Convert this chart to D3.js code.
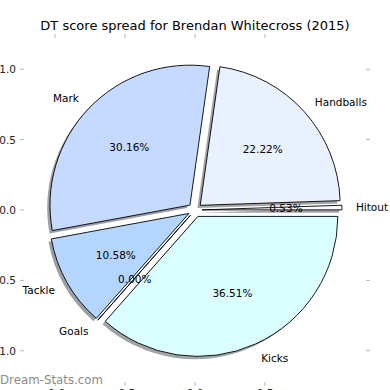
<!DOCTYPE html>
<html>
<head>
<meta charset="utf-8">
<script src="https://cdn.jsdelivr.net/npm/d3@7"></script>
<style>
  html, body { margin: 0; padding: 0; background: #fff; }
  svg { display: block; }
</style>
</head>
<body>
<div id="chart"></div>
<script>
// Slices in drawing order, counter-clockwise from 3 o'clock
const sliceLabels = ['Hitout', 'Handballs', 'Mark', 'Tackle', 'Goals', 'Kicks'];
const sliceShares = [0.53, 22.22, 30.16, 10.58, 0.00, 36.51];
const sliceColors = ['#f5f8ff', '#eaf1fe', '#c6daff', '#b4d5fe', '#dbe8ff', '#dbffff'];
const explode = [0.05, 0.05, 0.05, 0.05, 0.05, 0.05];

const xTickValues = [-1.0, -0.5, 0.0, 0.5];
const yTickValues = [1.0, 0.5, 0.0, -0.5, -1.0];
const chartTitle = 'DT score spread for Brendan Whitecross (2015)';
const watermark = 'Dream-Stats.com';

const W = 390, H = 390;
const box = { left: 22, right: 368, top: 36, bottom: 384 };
const FONT = '"DejaVu Sans", sans-serif';

const svg = d3.select('#chart').append('svg')
  .attr('width', W).attr('height', H)
  .attr('viewBox', `0 0 ${W} ${H}`);

svg.append('rect').attr('width', W).attr('height', H).attr('fill', '#fff');

// equal-aspect data axes, pie centred on (0,0) with radius 1
const x = d3.scaleLinear().domain([-1.236, 1.236]).range([box.left, box.right]);
const y = d3.scaleLinear().domain([-1.236, 1.236]).range([box.bottom, box.top]);
const R = x(1) - x(0);

// wedge angles (degrees, CCW), as matplotlib computes them
const total = d3.sum(sliceShares);
let acc = 0;
const wedges = sliceShares.map((v, i) => {
  const t1 = 360 * acc / total;
  acc += v;
  const t2 = 360 * acc / total;
  const tm = (t1 + t2) / 2 * Math.PI / 180;
  const cx = explode[i] * Math.cos(tm);
  const cy = explode[i] * Math.sin(tm);
  return { i, label: sliceLabels[i], v, t1, t2, tm, cx, cy, color: sliceColors[i] };
});

function wedgePath(w, dx, dy) {
  const a1 = w.t1 * Math.PI / 180, a2 = w.t2 * Math.PI / 180;
  const px = x(w.cx + dx), py = y(w.cy + dy);
  const p = d3.path();
  p.moveTo(px, py);
  p.lineTo(px + R * Math.cos(a1), py - R * Math.sin(a1));
  p.arc(px, py, R, -a1, -a2, true);
  p.closePath();
  return p.toString();
}

// shadows sit under every wedge
const darken = (c) => { const r = d3.rgb(c); return d3.rgb(r.r * 0.3, r.g * 0.3, r.b * 0.3).toString(); };
svg.append('g').selectAll('path')
  .data(wedges)
  .join('path')
  .attr('d', (d) => wedgePath(d, -0.02, -0.02))
  .attr('fill', (d) => darken(d.color))
  .attr('fill-opacity', 0.5)
  .attr('stroke', 'none');

svg.append('g').selectAll('path')
  .data(wedges)
  .join('path')
  .attr('d', (d) => wedgePath(d, 0, 0))
  .attr('fill', (d) => d.color)
  .attr('stroke', '#000')
  .attr('stroke-width', 0.9)
  .attr('stroke-linejoin', 'round');

// slice labels at 1.1 r, percentages at 0.6 r
svg.append('g').selectAll('text')
  .data(wedges)
  .join('text')
  .attr('x', (d) => x(d.cx + 1.1 * Math.cos(d.tm)))
  .attr('y', (d) => y(d.cy + 1.1 * Math.sin(d.tm)))
  .attr('text-anchor', (d) => (d.cx + 1.1 * Math.cos(d.tm)) > 0 ? 'start' : 'end')
  .attr('dominant-baseline', 'central')
  .attr('font-family', FONT)
  .attr('font-size', 10.5)
  .attr('fill', '#000')
  .text((d) => d.label);

svg.append('g').selectAll('text')
  .data(wedges)
  .join('text')
  .attr('x', (d) => x(d.cx + 0.6 * Math.cos(d.tm)))
  .attr('y', (d) => y(d.cy + 0.6 * Math.sin(d.tm)))
  .attr('text-anchor', 'middle')
  .attr('dominant-baseline', 'central')
  .attr('font-family', FONT)
  .attr('font-size', 10.5)
  .attr('fill', '#000')
  .text((d) => `${(d.v / total * 100).toFixed(2)}%`);

// ticks (no spines)
const tickColor = '#b8b8b8';
const ticks = svg.append('g').attr('stroke', tickColor).attr('stroke-width', 1);
yTickValues.forEach((v) => {
  ticks.append('line').attr('x1', box.left - 2).attr('x2', box.left + 2).attr('y1', y(v)).attr('y2', y(v));
  ticks.append('line').attr('x1', box.right - 2).attr('x2', box.right + 2).attr('y1', y(v)).attr('y2', y(v));
});
xTickValues.forEach((v) => {
  ticks.append('line').attr('x1', x(v)).attr('x2', x(v)).attr('y1', box.top - 2).attr('y2', box.top + 2);
  ticks.append('line').attr('x1', x(v)).attr('x2', x(v)).attr('y1', box.bottom - 2).attr('y2', box.bottom + 2);
});

// tick labels run off the left and bottom edges, as in the original
svg.append('g').selectAll('text')
  .data(yTickValues)
  .join('text')
  .attr('x', box.left - 6)
  .attr('y', (d) => y(d))
  .attr('text-anchor', 'end')
  .attr('dominant-baseline', 'central')
  .attr('font-family', FONT)
  .attr('font-size', 10.5)
  .attr('fill', '#222')
  .text((d) => d.toFixed(1));

svg.append('g').selectAll('text')
  .data(xTickValues)
  .join('text')
  .attr('x', (d) => x(d))
  .attr('y', box.bottom + 13)
  .attr('text-anchor', 'middle')
  .attr('font-family', FONT)
  .attr('font-size', 10.5)
  .attr('fill', '#222')
  .text((d) => d.toFixed(1));

svg.append('text')
  .attr('x', W / 2)
  .attr('y', 30)
  .attr('text-anchor', 'middle')
  .attr('font-family', FONT)
  .attr('font-size', 13)
  .attr('fill', '#000')
  .text(chartTitle);

svg.append('text')
  .attr('x', 0)
  .attr('y', 384)
  .attr('font-family', FONT)
  .attr('font-size', 11.8)
  .attr('fill', '#8c8c8c')
  .text(watermark);
</script>
</body>
</html>
